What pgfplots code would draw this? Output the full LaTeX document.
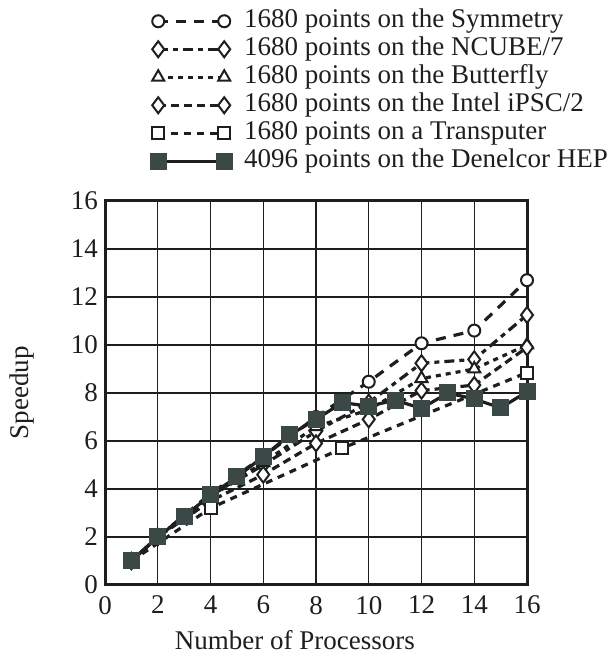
\documentclass[border=0pt]{standalone}
\usepackage{fontspec}
\setmainfont{Liberation Serif}
\usepackage{pgfplots}
\pgfplotsset{compat=1.18}
\definecolor{ink}{RGB}{30,30,30}
\definecolor{hep}{RGB}{60,72,70}
\begin{document}
\begin{tikzpicture}
\useasboundingbox (-52.5pt,-35.5pt) rectangle (252pt,292.5pt);
\begin{axis}[
  at={(0,0)}, anchor=south west,
  scale only axis, width=211pt, height=192pt,
  xmin=0, xmax=16, ymin=0, ymax=16,
  xtick={0,2,...,16}, ytick={0,2,...,16},
  grid=major, major grid style={line width=0.7pt, ink},
  axis line style={line width=1.5pt, ink},
  major tick length=0pt,
  tick label style={font=\fontsize{13.5}{14}\selectfont, text=ink},
  xticklabel style={yshift=-2pt},
  /pgf/number format/assume math mode=true,
  label style={font=\fontsize{13.5}{14}\selectfont, text=ink},
  xlabel={Number of Processors}, ylabel={Speedup},
  xlabel style={at={(axis description cs:0.45,-0.143)}, anchor=center},
  ylabel style={at={(axis description cs:-0.197,0.5)}, anchor=center},
  clip=false,
  legend style={at={(axis description cs:0.092,1.516)}, anchor=north west,
    draw=none, fill=none, font=\fontsize{13.5}{14}\selectfont, text=ink,
    row sep=0pt, column sep=6pt,
    nodes={inner sep=0pt, text height=10pt, text depth=4pt}},
  legend cell align=left,
  legend image code/.code={\draw[#1] plot coordinates {(0pt,0pt) (33pt,0pt)};},
]
\addplot[ink, line width=1.6pt, dash pattern=on 5pt off 4pt,
  mark=*, mark size=3pt, mark options={solid, fill=white, line width=1pt}]
  coordinates {(1,1)(2,2)(4,3.8)(6,5.35)(8,7.0)(10,8.47)(12,10.07)(14,10.6)(16,12.7)};
\addlegendentry{1680 points on the Symmetry}
\addplot[ink, line width=1.6pt, dash pattern=on 5pt off 2.5pt on 2.5pt off 2.5pt,
  mark=diamond*, mark size=4pt, mark options={solid, fill=white, line width=1pt}]
  coordinates {(1,1)(2,2)(4,3.7)(6,5.0)(8,6.4)(10,7.6)(12,9.24)(14,9.4)(16,11.25)};
\addlegendentry{1680 points on the NCUBE/7}
\addplot[ink, line width=1.6pt, dash pattern=on 2.5pt off 2.5pt,
  mark=triangle*, mark size=3.5pt, mark options={solid, fill=white, line width=1pt}]
  coordinates {(1,1)(2,2)(4,3.7)(6,5.1)(8,6.6)(10,7.3)(12,8.6)(14,9.0)(16,10.0)};
\addlegendentry{1680 points on the Butterfly}
\addplot[ink, line width=1.6pt, dash pattern=on 4pt off 2.5pt,
  mark=diamond*, mark size=4pt, mark options={solid, fill=white, line width=1pt}]
  coordinates {(1,1)(2,2)(4,3.5)(6,4.6)(8,5.9)(10,6.9)(12,8.1)(14,8.33)(16,9.9)};
\addlegendentry{1680 points on the Intel iPSC/2}
\addplot[ink, line width=1.6pt, dash pattern=on 3.5pt off 3pt,
  mark=square*, mark size=3pt, mark options={solid, fill=white, line width=1pt}]
  coordinates {(1,1)(4,3.2)(9,5.7)(16,8.85)};
\addlegendentry{1680 points on a Transputer}
\addplot[ink, line width=1.6pt, solid,
  mark=square*, mark size=4pt, mark options={solid, fill=hep, draw=hep, line width=0.5pt}]
  coordinates {(1,1.0)(2,2.0)(3,2.85)(4,3.75)(5,4.5)(6,5.35)(7,6.25)(8,6.9)(9,7.6)(10,7.45)(11,7.7)(12,7.36)(13,8.0)(14,7.75)(15,7.38)(16,8.05)};
\addlegendentry{4096 points on the Denelcor HEP}
\end{axis}
\end{tikzpicture}
\end{document}
